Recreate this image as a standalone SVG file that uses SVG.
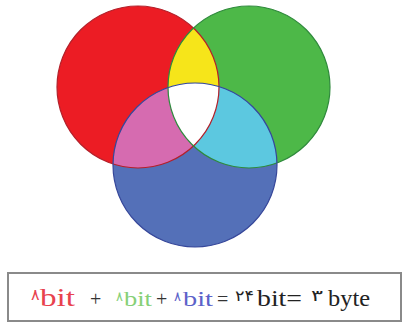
<svg xmlns="http://www.w3.org/2000/svg" width="403" height="324" viewBox="0 0 403 324">
<style>
.edge{fill:none;stroke-width:1.2}
.lat{font-family:"Liberation Serif","Times New Roman",serif}
.dig{font-family:"DejaVu Sans",sans-serif}
.op{font-family:"Liberation Serif",serif;fill:#333333;font-size:20px}
.red{fill:#e8424e}
.grn{fill:#86d077}
.blu{fill:#5c62c9}
.blk{fill:#222222}
</style>
<defs>
<clipPath id="cR"><circle cx="138" cy="87" r="81"/></clipPath>
<clipPath id="cG"><circle cx="249" cy="87" r="81"/></clipPath>
<clipPath id="cB"><circle cx="195" cy="165" r="82"/></clipPath>
</defs>
<rect width="403" height="324" fill="#ffffff"/>
<g id="red"><circle cx="138" cy="87" r="81" fill="#ec1c24"/></g>
<g id="green"><circle cx="249" cy="87" r="81" fill="#4db848"/></g>
<g id="blue"><circle cx="195" cy="165" r="82" fill="#5470b8"/></g>
<g id="yellow" clip-path="url(#cR)"><circle cx="249" cy="87" r="81" fill="#f6e51a"/></g>
<g id="magenta" clip-path="url(#cR)"><circle cx="195" cy="165" r="82" fill="#d66bb0"/></g>
<g id="cyan" clip-path="url(#cG)"><circle cx="195" cy="165" r="82" fill="#5cc8e0"/></g>
<g id="white" clip-path="url(#cR)"><g clip-path="url(#cG)"><circle cx="195" cy="165" r="82" fill="#ffffff"/></g></g>
<g id="outlines">
<circle class="edge" cx="138" cy="87" r="81" stroke="#b3202a"/>
<circle class="edge" cx="249" cy="87" r="81" stroke="#2f8a3c"/>
<circle class="edge" cx="195" cy="165" r="82" stroke="#36479a"/>
</g>
<g id="formula">
<rect x="8" y="273" width="393" height="48" fill="#ffffff" stroke="#8a8a8a" stroke-width="2"/>
<text class="dig red" x="31" y="300" font-size="16">۸</text>
<text class="lat red" x="40" y="306" font-size="25" textLength="35" lengthAdjust="spacingAndGlyphs">bit</text>
<text class="op" x="90" y="306">+</text>
<text class="dig grn" x="116" y="301" font-size="13">۸</text>
<text class="lat grn" x="124" y="306" font-size="20" textLength="28" lengthAdjust="spacingAndGlyphs">bit</text>
<text class="op" x="156" y="306">+</text>
<text class="dig blu" x="174" y="301" font-size="13">۸</text>
<text class="lat blu" x="183" y="306" font-size="20" textLength="30" lengthAdjust="spacingAndGlyphs">bit</text>
<text class="op" x="217" y="306">=</text>
<text class="dig blk" x="235" y="301" font-size="15" textLength="19" lengthAdjust="spacingAndGlyphs">۲۴</text>
<text class="lat blk" x="257" y="306" font-size="24" textLength="45" lengthAdjust="spacingAndGlyphs">bit=</text>
<text class="dig blk" x="311" y="301" font-size="16" textLength="12" lengthAdjust="spacingAndGlyphs">۳</text>
<text class="lat blk" x="328" y="306" font-size="24" textLength="42" lengthAdjust="spacingAndGlyphs">byte</text>
</g>
</svg>
